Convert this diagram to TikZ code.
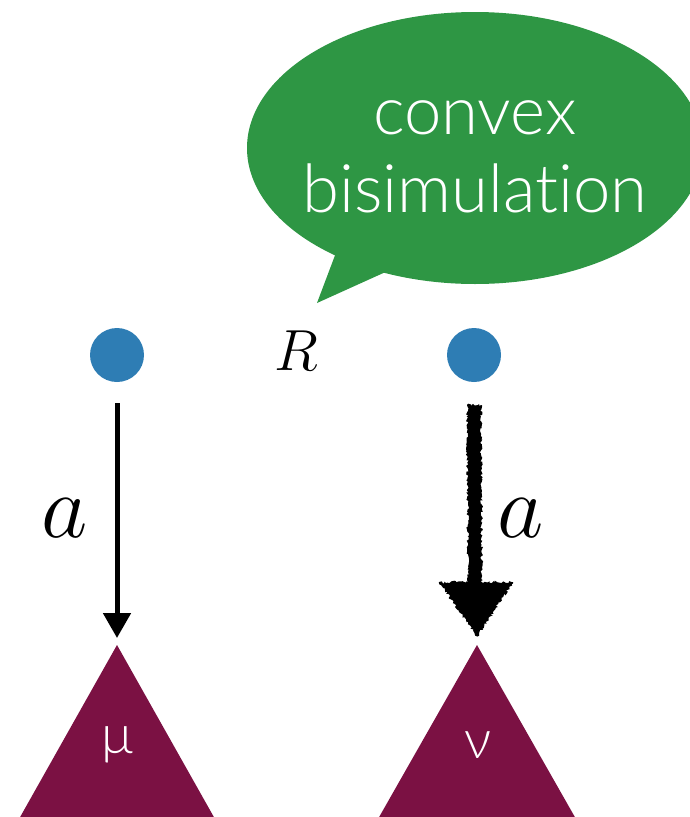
\RequirePackage{fix-cm}
\documentclass[tikz,border=0pt]{standalone}
\usepackage{fontspec}
\newfontfamily\bubblefont{Lato}[UprightFont={* Light},Ligatures={NoCommon,NoRare}]
\newfontfamily\greekfont{Lato}[UprightFont={* Light}]
\usetikzlibrary{arrows.meta,calc,decorations.pathmorphing}
\definecolor{bubblegreen}{RGB}{46,150,68}
\definecolor{dotblue}{RGB}{46,125,180}
\definecolor{distred}{RGB}{123,17,67}
\tikzset{
  state/.style={circle,fill=dotblue,minimum size=54pt,inner sep=0pt},
  distri/.style={fill=distred},
  thinstep/.style={line width=5pt,-{Triangle[width=27pt,length=25pt]}},
  rough/.style={fill=black,decorate,decoration={random steps,segment length=1.6pt,amplitude=1.4pt}},
  biglabel/.style={font=\fontsize{90}{90}\selectfont},
  rellabel/.style={font=\fontsize{58}{58}\selectfont},
  greeklabel/.style={text=white,font=\greekfont\fontsize{54}{54}\selectfont},
}
\begin{document}
\begin{tikzpicture}[x=1pt,y=-1pt]
  \useasboundingbox (0,0) rectangle (690,817);
  \clip (0,0) rectangle (690,817);

  % speech bubble
  \fill[bubblegreen] (475,148) ellipse [x radius=228, y radius=136];
  \fill[bubblegreen] (337,250) -- (317,303) -- (390,270) -- cycle;
  \node[text=white,align=center,font=\bubblefont\fontsize{67}{78}\selectfont] (bubble) at (475,157)
    {convex\\bisimulat\kern0pt ion};

  % the two related states
  \node[state] (p) at (117,355) {};
  \node[state] (q) at (474,355) {};
  \node[rellabel] (R) at (296,351) {$R$};

  % target distributions
  \coordinate (mutop) at (117,645);
  \coordinate (nutop) at (477,645);
  \fill[distri] (mutop) -- (19,819) -- (215,819) -- cycle;
  \fill[distri] (nutop) -- (378,819) -- (576,819) -- cycle;
  \node[greeklabel] (mu) at (117,745) {μ};
  \node[greeklabel] (nu) at (478,745) {ν};

  % left transition
  \draw[thinstep,shorten <=21pt,shorten >=7pt] (p) -- (mutop);
  \node[biglabel] (la) at (65,518) {$a$};

  % right transition, drawn as a rough charcoal stroke
  \fill[rough] ($(q)+(-7,50)$) -- ($(q)+(7,50)$) -- ($(q)+(8,228)$) -- ($(q)+(-6,228)$) -- cycle;
  \fill[rough] ($(q)+(-35,227)$) -- ($(q)+(39,227)$) -- ($(nutop)+(0,-8)$) -- cycle;
  \node[biglabel] (ra) at (521,518) {$a$};
\end{tikzpicture}
\end{document}
